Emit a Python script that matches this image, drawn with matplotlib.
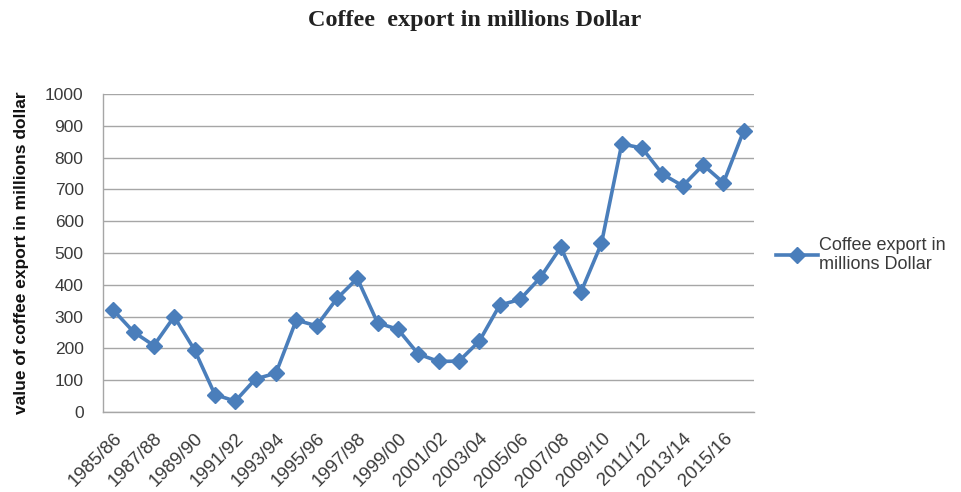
import matplotlib.pyplot as plt

# Coffee export values (millions of dollars) per season
seasons = [
    "1985/86", "1986/87", "1987/88", "1988/89", "1989/90", "1990/91",
    "1991/92", "1992/93", "1993/94", "1994/95", "1995/96", "1996/97",
    "1997/98", "1998/99", "1999/00", "2000/01", "2001/02", "2002/03",
    "2003/04", "2004/05", "2005/06", "2006/07", "2007/08", "2008/09",
    "2009/10", "2010/11", "2011/12", "2012/13", "2013/14", "2014/15",
    "2015/16", "2016/17",
]
export_values = [
    321, 252, 209, 300, 195, 55, 34, 104, 122, 289, 271, 357,
    420, 280, 260, 182, 159, 160, 223, 336, 354, 423, 518, 378,
    530, 843, 830, 748, 711, 777, 721, 885,
]
y_ticks = [0, 100, 200, 300, 400, 500, 600, 700, 800, 900, 1000]

LINE_BLUE = "#4a7ebb"
TEXT_GREY = "#3a3a3a"

fig = plt.figure(figsize=(9.61, 4.92), dpi=100)
ax = fig.add_axes([103 / 961, 1 - 412 / 492, 651 / 961, 318 / 492])

x = list(range(len(seasons)))
ax.plot(x, export_values, color=LINE_BLUE, linewidth=2.6, marker="D",
        markersize=8.5, markeredgecolor=LINE_BLUE, markerfacecolor=LINE_BLUE,
        label="Coffee export in\nmillions Dollar", zorder=3)

ax.set_xlim(-0.5, len(seasons) - 0.5)
ax.set_ylim(0, 1000)
ax.set_yticks(y_ticks)
ax.set_yticklabels([str(v) for v in y_ticks], fontsize=12.5, color=TEXT_GREY,
                   family="Liberation Sans")
ax.set_xticks(x[::2])
ax.set_xticklabels(seasons[::2], rotation=45, ha="right", rotation_mode="anchor",
                   fontsize=13.5, color=TEXT_GREY, family="Liberation Sans")
ax.tick_params(axis="y", length=0, pad=14)
ax.tick_params(axis="x", length=0, pad=13)

ax.grid(axis="y", color="#a6a6a6", linewidth=1.0)
ax.set_axisbelow(True)
for side in ("top", "right"):
    ax.spines[side].set_visible(False)
for side in ("left", "bottom"):
    ax.spines[side].set_color("#a6a6a6")
    ax.spines[side].set_linewidth(1.0)

ax.set_ylabel("value of coffee export in millions dollar", fontsize=12.5,
              fontweight="bold", family="Liberation Sans", color="#111111")
ax.yaxis.set_label_coords(-0.114, 0.5)

fig.text(0.494, 0.958, "Coffee  export in millions Dollar", ha="center",
         va="center", fontsize=17.5, fontweight="bold", family="Liberation Serif",
         color="#222222")

leg = ax.legend(loc="upper left", bbox_to_anchor=(1.02, 0.578), frameon=False,
                handlelength=2.3, handletextpad=0.1, labelspacing=0.2,
                borderpad=0, prop={"family": "Liberation Sans", "size": 13})
for t in leg.get_texts():
    t.set_color(TEXT_GREY)
    t.set_linespacing(1.15)

fig.savefig("out.png", dpi=100)
